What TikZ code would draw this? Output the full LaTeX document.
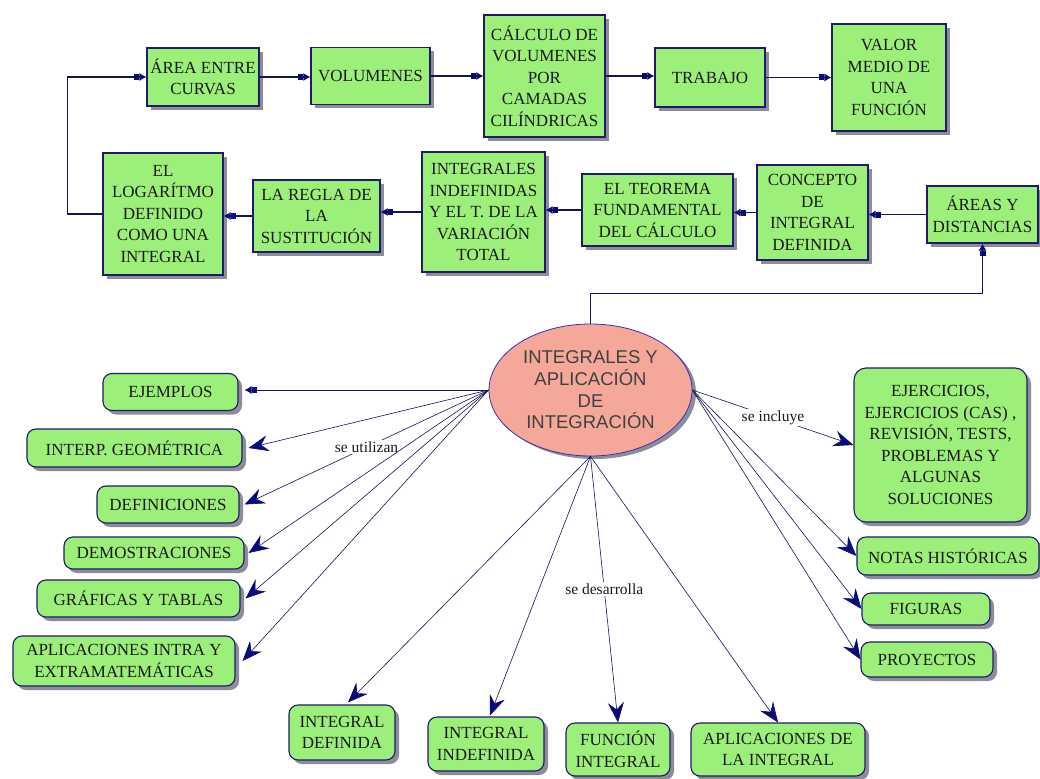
\documentclass[tikz,border=0pt]{standalone}
\usepackage{fontspec}
\setmainfont{Liberation Serif}
\newfontfamily\ellfont{Liberation Sans}
\usetikzlibrary{arrows.meta,shadows,shapes.geometric}

\definecolor{boxgreen}{HTML}{9CEF78}
\definecolor{boxline}{HTML}{1C1C6B}
\definecolor{linknavy}{HTML}{14145A}
\definecolor{tipnavy}{HTML}{0A0A78}
\definecolor{ellpink}{HTML}{F5A899}
\definecolor{ellline}{HTML}{3B2FB5}
\definecolor{shadowgrey}{HTML}{8C8C9C}

\tikzset{
  boxtext/.style={font=\fontsize{17}{21.5}\selectfont, text=black!90, align=center},
  boxshadow/.style={drop shadow={shadow xshift=4pt, shadow yshift=-4pt, fill=shadowgrey, opacity=1}},
  flowbox/.style={draw=boxline, line width=1.1pt, fill=boxgreen, boxtext, inner sep=0pt, boxshadow},
  topicbox/.style={flowbox, rounded corners=9pt},
  smallarrow/.style={draw=linknavy, line width=1.1pt,
    -{Rectangle[length=5pt,width=6pt,color=tipnavy]Latex[length=7pt,width=8pt,color=tipnavy]}},
  thinsmallarrow/.style={smallarrow, line width=0.7pt},
  bigarrow/.style={draw=linknavy, line width=0.6pt,
    -{Stealth[length=20pt,width=16pt,inset=7pt,color=tipnavy]}},
  lbl/.style={fill=white, inner sep=1.5pt, font=\fontsize{15.5}{18}\selectfont, text=black!90},
}

\begin{document}
\begin{tikzpicture}[x=1pt,y=-1pt]
\fill[white] (0,0) rectangle (1040,778);
\useasboundingbox (0,0) rectangle (1040,778);

% ---- first row of the sequence ----
\node[flowbox, minimum width=112pt, minimum height=58pt] (area) at (203,77) {ÁREA ENTRE\\CURVAS};
\node[flowbox, minimum width=119pt, minimum height=57pt] (vol) at (370.5,76) {VOLUMENES};
\node[flowbox, minimum width=121pt, minimum height=122pt] (calc) at (544.5,76) {CÁLCULO DE\\VOLUMENES\\POR\\CAMADAS\\CILÍNDRICAS};
\node[flowbox, minimum width=110pt, minimum height=59pt] (trab) at (710,77.5) {TRABAJO};
\node[flowbox, minimum width=114pt, minimum height=107pt] (valor) at (889,77.5) {VALOR\\MEDIO DE\\UNA\\FUNCIÓN};

% ---- second row of the sequence ----
\node[flowbox, minimum width=120pt, minimum height=122pt] (log) at (163,214) {EL\\LOGARÍTMO\\DEFINIDO\\COMO UNA\\INTEGRAL};
\node[flowbox, minimum width=127pt, minimum height=72pt] (regla) at (316.5,216) {LA REGLA DE\\LA\\SUSTITUCIÓN};
\node[flowbox, minimum width=123pt, minimum height=120pt] (indef) at (483.5,212) {INTEGRALES\\INDEFINIDAS\\Y EL T. DE LA\\VARIACIÓN\\TOTAL};
\node[flowbox, minimum width=151pt, minimum height=72pt] (teorema) at (657.5,210) {EL TEOREMA\\FUNDAMENTAL\\DEL CÁLCULO};
\node[flowbox, minimum width=111pt, minimum height=95pt] (concepto) at (812.5,212.5) {CONCEPTO\\DE\\INTEGRAL\\DEFINIDA};
\node[flowbox, minimum width=111pt, minimum height=57pt] (areas) at (982.5,214.5) {ÁREAS Y\\DISTANCIAS};

% ---- central topic ----
\node[ellipse, draw=ellline, line width=0.8pt, fill=ellpink, minimum width=203pt, minimum height=132pt,
  inner sep=0pt, align=center, font=\ellfont\fontsize{18.5}{21.7}\selectfont, text=black!75,
  drop shadow={shadow xshift=4pt, shadow yshift=-3pt, fill=shadowgrey, opacity=1}] (ell) at (590.5,390)
  {INTEGRALES Y\\APLICACIÓN\\DE\\INTEGRACIÓN};

% ---- resources on the left ----
\node[topicbox, minimum width=135pt, minimum height=37pt] (ejem) at (170.5,392) {EJEMPLOS};
\node[topicbox, minimum width=215pt, minimum height=38pt] (interp) at (134.5,448) {INTERP. GEOMÉTRICA};
\node[topicbox, minimum width=142pt, minimum height=37pt] (defin) at (168,504.5) {DEFINICIONES};
\node[topicbox, minimum width=180pt, minimum height=32pt] (demos) at (154,553) {DEMOSTRACIONES};
\node[topicbox, minimum width=203pt, minimum height=37pt] (graf) at (138.5,598.5) {GRÁFICAS Y TABLAS};
\node[topicbox, minimum width=222pt, minimum height=50pt] (aplic) at (124,661) {APLICACIONES INTRA Y\\EXTRAMATEMÁTICAS};

% ---- contents developed, bottom ----
\node[topicbox, minimum width=106pt, minimum height=55pt] (intdef) at (342,732.5) {INTEGRAL\\DEFINIDA};
\node[topicbox, minimum width=116pt, minimum height=54pt] (intindef) at (486,744) {INTEGRAL\\INDEFINIDA};
\node[topicbox, minimum width=104pt, minimum height=53pt] (funcint) at (618,749.5) {FUNCIÓN\\INTEGRAL};
\node[topicbox, minimum width=174pt, minimum height=53pt] (aplint) at (778,749.5) {APLICACIONES DE\\LA INTEGRAL};

% ---- material included, right ----
\node[topicbox, rounded corners=12pt, minimum width=173pt, minimum height=154pt] (ejer) at (940.5,445)
  {EJERCICIOS,\\EJERCICIOS (CAS) ,\\REVISIÓN, TESTS,\\PROBLEMAS Y\\ALGUNAS\\SOLUCIONES};
\node[topicbox, minimum width=182pt, minimum height=38pt] (notas) at (948,556) {NOTAS HISTÓRICAS};
\node[topicbox, minimum width=128pt, minimum height=32pt] (figuras) at (926,609) {FIGURAS};
\node[topicbox, minimum width=132pt, minimum height=35pt] (proy) at (927,659.5) {PROYECTOS};

% ---- sequence connectors ----
\draw[smallarrow] (area.east) -- (area.east -| vol.west);
\draw[smallarrow] (vol.east) -- (vol.east -| calc.west);
\draw[smallarrow] (calc.east) -- (calc.east -| trab.west);
\draw[smallarrow] (trab.east) -- (trab.east -| valor.west);

\draw[smallarrow] (areas.west) -- (areas.west -| concepto.east);
\draw[smallarrow] (concepto.west) -- (concepto.west -| teorema.east);
\draw[smallarrow] (teorema.west) -- (teorema.west -| indef.east);
\draw[smallarrow] (indef.west) -- (indef.west -| regla.east);
\draw[smallarrow] (regla.west) -- (regla.west -| log.east);
\draw[smallarrow] (log.west) -- ++(-35,0) |- (area.west);

\draw[smallarrow] (ell.north) -- ++(0,-30) -| (areas.south);

% ---- fan to the left ----
\draw[thinsmallarrow] (ell.west) -- ([xshift=6pt]ell.west -| ejem.east);
\draw[bigarrow] (ell.west) -- ([xshift=6pt]interp.east);
\draw[bigarrow] (ell.west) -- node[lbl] {se utilizan} ([xshift=5pt]defin.east);
\draw[bigarrow] (ell.west) -- ([xshift=4pt]demos.east);
\draw[bigarrow] (ell.west) -- ([xshift=5pt]graf.east);
\draw[bigarrow] (ell.west) -- ([xshift=7pt]aplic.east);

% ---- fan to the bottom ----
\draw[bigarrow] (ell.south) -- ([xshift=6pt,yshift=2pt]intdef.north);
\draw[bigarrow] (ell.south) -- ([xshift=4pt,yshift=1pt]intindef.north);
\draw[bigarrow] (ell.south) -- node[lbl] {se desarrolla} (funcint.north);
\draw[bigarrow] (ell.south) -- (aplint.north);

% ---- fan to the right ----
\draw[bigarrow] (ell.east) -- node[lbl] {se incluye} (ejer.west);
\draw[bigarrow] (ell.east) -- (notas.west);
\draw[bigarrow] (ell.east) -- (figuras.west);
\draw[bigarrow] (ell.east) -- (proy.west);
\end{tikzpicture}
\end{document}
